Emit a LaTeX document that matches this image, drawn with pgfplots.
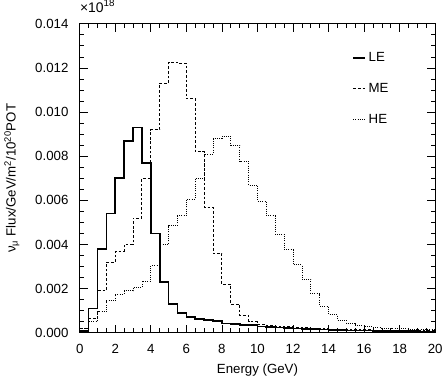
\documentclass[border=0pt]{standalone}
\usepackage{fontspec}
\setmainfont{Liberation Sans}
\usepackage{pgfplots}
\pgfplotsset{compat=1.18}
\begin{document}
\begin{tikzpicture}
\begin{axis}[
  name=ax,
  scale only axis, width=268pt, height=233pt,
  xmin=0, xmax=20, ymin=0, ymax=0.014,
  xtick={0,2,4,6,8,10,12,14,16,18,20}, minor x tick num=3,
  ytick={0,0.002,0.004,0.006,0.008,0.010,0.012,0.014}, minor y tick num=3,
  tick align=inside, major tick length=6pt, minor tick length=3.5pt,
  tick style={black, line width=0.5pt},
  axis line style={line width=0.6pt},
  scaled y ticks=false,
  /pgf/number format/assume math mode=true,
  ticklabel style={font=\fontsize{10}{12}\selectfont},
  yticklabel style={xshift=-5pt, /pgf/number format/.cd, fixed, fixed zerofill, precision=3},
  xticklabel style={yshift=-5pt},
  label style={font=\fontsize{10}{12}\selectfont},
  xlabel={Energy (GeV)},
  xlabel style={yshift=-1pt},
  ylabel={ν\textsubscript{μ} Flux/GeV/m\textsuperscript{2}/10\textsuperscript{20}POT},
  ylabel style={yshift=5pt},
  legend style={draw=none, fill=none, at={(rel axis cs:0.755,0.926)}, anchor=north west,
    row sep=11pt, font=\fontsize{10}{12}\selectfont},
  legend cell align=left,
  legend image code/.code={\draw[#1] (0pt,0pt) -- (9pt,0pt);},
]
\addplot[const plot, black, line width=1.3pt] coordinates {
(0,0.00007) (0.5,0.0011) (1.0,0.0038) (1.5,0.0054) (2.0,0.0070) (2.5,0.0087)
(3.0,0.0093) (3.5,0.0077) (4.0,0.0045) (4.5,0.0023) (5.0,0.0013) (5.5,0.0009)
(6.0,0.00072) (6.5,0.00064) (7.0,0.00057) (7.5,0.00052) (8.0,0.00042) (8.5,0.00039)
(9.0,0.00036) (9.5,0.00034) (10.0,0.00029) (10.5,0.00026) (11.0,0.00024) (11.5,0.00022)
(12.0,0.00019) (12.5,0.00017) (13.0,0.00016) (13.5,0.00015) (14.0,0.00013) (14.5,0.00012)
(15.0,0.00011) (15.5,0.0001) (16.0,0.0001) (16.5,0.00009) (17.0,0.00009) (17.5,0.00008)
(18.0,0.00007) (18.5,0.00007) (19.0,0.00006) (19.5,0.00006) (20,0.00006)
};
\addlegendentry{LE}
\addplot[const plot, black, line width=0.7pt, dash pattern=on 2pt off 1.5pt] coordinates {
(0,0.0002) (0.5,0.00063) (1.0,0.0019) (1.5,0.0032) (2.0,0.0037) (2.5,0.0040)
(3.0,0.0052) (3.5,0.0070) (4.0,0.0092) (4.5,0.0113) (5.0,0.01225) (5.5,0.0122)
(6.0,0.0106) (6.5,0.0082) (7.0,0.0057) (7.5,0.0036) (8.0,0.0022) (8.5,0.0013)
(9.0,0.0008) (9.5,0.0005) (10.0,0.00039) (10.5,0.00034) (11.0,0.0003) (11.5,0.00027)
(12.0,0.00024) (12.5,0.00022) (13.0,0.0002) (13.5,0.00019) (14.0,0.00017) (14.5,0.00016)
(15.0,0.00015) (15.5,0.00014) (16.0,0.00013) (16.5,0.00012) (17.0,0.00012) (17.5,0.00011)
(18.0,0.0001) (18.5,0.0001) (19.0,0.00009) (19.5,0.00009) (20,0.00009)
};
\addlegendentry{ME}
\addplot[const plot, black, line width=0.6pt, dash pattern=on 0.7pt off 1pt] coordinates {
(0,0.0002) (0.5,0.0005) (1.0,0.00095) (1.5,0.00145) (2.0,0.00176) (2.5,0.0019)
(3.0,0.00205) (3.5,0.00235) (4.0,0.00305) (4.5,0.0040) (5.0,0.00486) (5.5,0.0053)
(6.0,0.00606) (6.5,0.0070) (7.0,0.0081) (7.5,0.0088) (8.0,0.0089) (8.5,0.0085)
(9.0,0.00776) (9.5,0.0067) (10.0,0.00595) (10.5,0.0053) (11.0,0.00447) (11.5,0.00376)
(12.0,0.00308) (12.5,0.00242) (13.0,0.00177) (13.5,0.00121) (14.0,0.00083) (14.5,0.00058)
(15.0,0.00042) (15.5,0.00033) (16.0,0.00027) (16.5,0.00024) (17.0,0.00022) (17.5,0.0002)
(18.0,0.00018) (18.5,0.00016) (19.0,0.00015) (19.5,0.00014) (20,0.00014)
};
\addlegendentry{HE}
\end{axis}
\node[anchor=south west, inner sep=0pt] at ([yshift=8.5pt]ax.north west) {\fontsize{10.5}{12}\selectfont ×10\textsuperscript{18}};
\end{tikzpicture}
\end{document}
